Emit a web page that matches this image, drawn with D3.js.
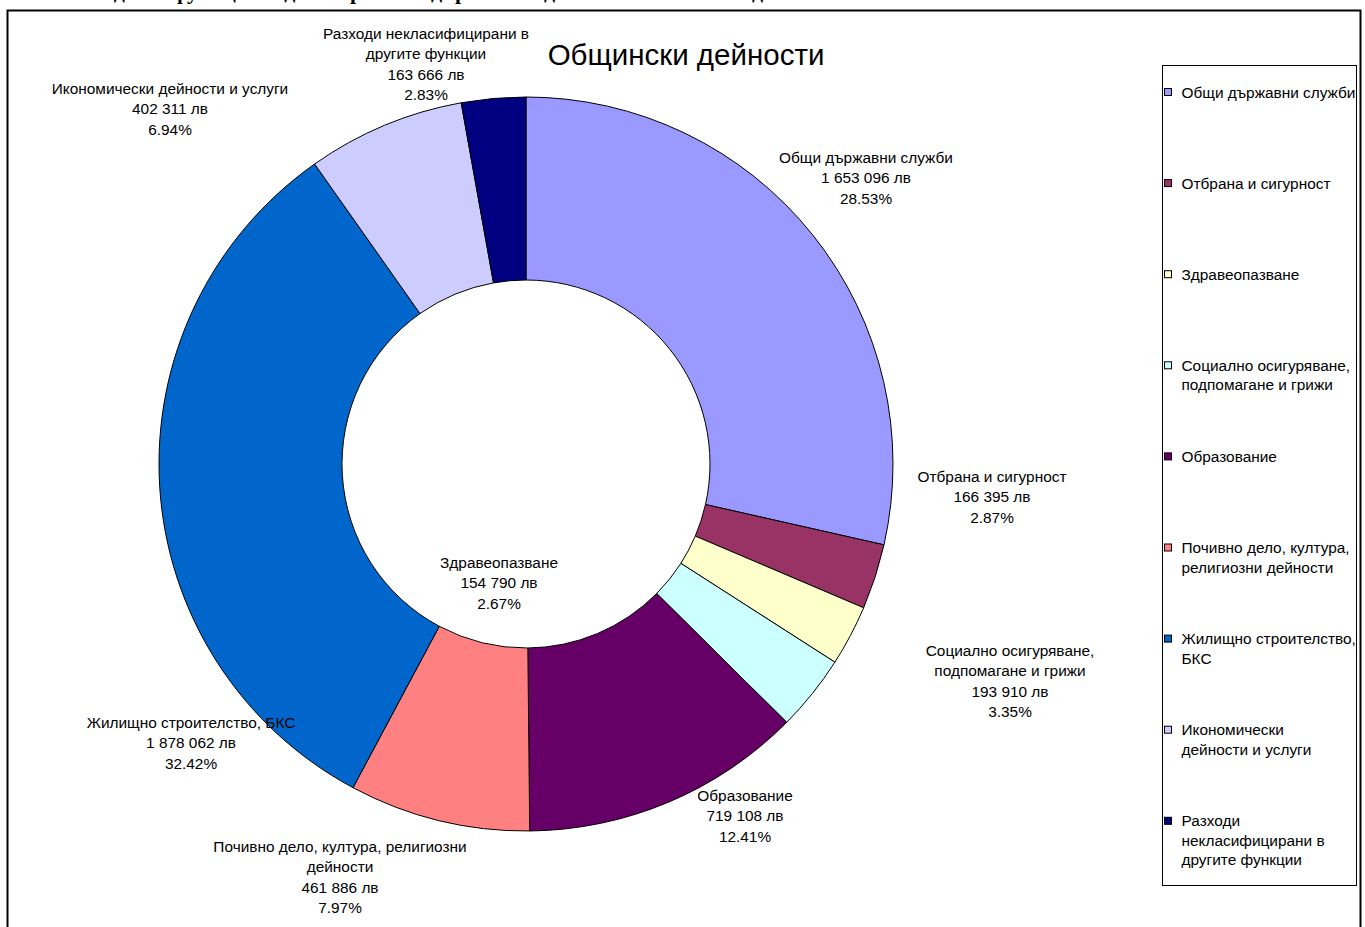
<!DOCTYPE html>
<html><head><meta charset="utf-8">
<script src="https://cdn.jsdelivr.net/npm/d3@7"></script>
<style>
html,body{margin:0;padding:0;background:#fff;overflow:hidden;}
svg{display:block;}
text{font-family:"Liberation Sans",Arial,sans-serif;fill:#000;}
</style></head>
<body>
<svg id="c" width="1365" height="927"></svg>
<script>
// ---- data ----
const categories = [
  "Общи държавни служби",
  "Отбрана и сигурност",
  "Здравеопазване",
  "Социално осигуряване, подпомагане и грижи",
  "Образование",
  "Почивно дело, култура, религиозни дейности",
  "Жилищно строителство, БКС",
  "Икономически дейности и услуги",
  "Разходи некласифицирани в другите функции"
];
const values = [1653096, 166395, 154790, 193910, 719108, 461886, 1878062, 402311, 163666];
const colors = ["#9999FF","#993366","#FFFFCC","#CCFFFF","#660066","#FF8080","#0066CC","#CCCCFF","#000080"];
const labelNameLines = [
  ["Общи държавни служби"],
  ["Отбрана и сигурност"],
  ["Здравеопазване"],
  ["Социално осигуряване,","подпомагане и грижи"],
  ["Образование"],
  ["Почивно дело, култура, религиозни","дейности"],
  ["Жилищно строителство, БКС"],
  ["Икономически дейности и услуги"],
  ["Разходи некласифицирани в","другите функции"]
];
const legendLines = [
  ["Общи държавни служби"],
  ["Отбрана и сигурност"],
  ["Здравеопазване"],
  ["Социално осигуряване,","подпомагане и грижи"],
  ["Образование"],
  ["Почивно дело, култура,","религиозни дейности"],
  ["Жилищно строителство,","БКС"],
  ["Икономически","дейности и услуги"],
  ["Разходи","некласифицирани в","другите функции"]
];
const title = "Общински дейности";
const topText = "Разходи по функции в делегирани от държавата дейности и в местни дейности";

// ---- layout (not data) ----
const W = 1365, H = 927;
const cx = 526, cy = 464, R = 367, r0 = 184;
// label first-line centres relative to donut centre
const labelOffsets = [[340,-307],[466,12],[-27,98],[484,186],[219,331],[-186,382],[-335,258],[-356,-376],[-100,-431]];
const fs = 15.4, lh = 20.5;

const svg = d3.select("#c");

// cut-off heading at very top (only descenders visible, as in the reference)
svg.append("text").attr("x", 60).attr("y", -1)
  .style("font-family","'Liberation Serif','Times New Roman',serif")
  .style("font-weight","bold").style("font-size","22px").text(topText);

// frame
svg.append("rect").attr("x",7.5).attr("y",10.5).attr("width",1353).attr("height",940)
  .attr("fill","#fff").attr("stroke","#000").attr("stroke-width",2);

const total = d3.sum(values);
const pie = d3.pie().sort(null).value(d=>d);
const arcs = pie(values);
const arc = d3.arc().innerRadius(r0).outerRadius(R);

const g = svg.append("g").attr("transform",`translate(${cx},${cy})`);
g.selectAll("path").data(arcs).join("path")
  .attr("d", arc)
  .attr("fill",(d,i)=>colors[i])
  .attr("stroke","#000").attr("stroke-width",1).attr("stroke-linejoin","round");

const fmt = v => d3.format(",")(v).replace(/,/g," ") + " лв";
const pct = v => (v/total*100).toFixed(2) + "%";

// labels
arcs.forEach((d,i)=>{
  const lines = labelNameLines[i].concat([fmt(values[i]), pct(values[i])]);
  const t = g.append("text").attr("text-anchor","middle").style("font-size",fs+"px");
  lines.forEach((ln,k)=>{
    t.append("tspan").attr("x",labelOffsets[i][0]).attr("y",labelOffsets[i][1]+5.5+k*lh).text(ln);
  });
});

// title
svg.append("text").attr("x",686).attr("y",64.5).attr("text-anchor","middle")
  .style("font-size","29.5px").text(title);

// legend
const lx = 1162, ly = 65, lw = 194, lhgt = 820;
svg.append("rect").attr("x",lx+0.5).attr("y",ly+0.5).attr("width",lw).attr("height",lhgt)
  .attr("fill","#fff").attr("stroke","#000").attr("stroke-width",1);
const step = 91.1;
const leg = svg.append("g");
categories.forEach((c,i)=>{
  const y0 = 92 + i*step;
  leg.append("rect").attr("x",lx+2.5).attr("y",y0-3.5).attr("width",7).attr("height",7)
    .attr("fill",colors[i]).attr("stroke","#000").attr("stroke-width",1);
  const t = leg.append("text").style("font-size",fs+"px");
  legendLines[i].forEach((ln,k)=>{
    t.append("tspan").attr("x",lx+19.5).attr("y",y0+5.5+k*19.5).text(ln);
  });
});
</script>
</body></html>
